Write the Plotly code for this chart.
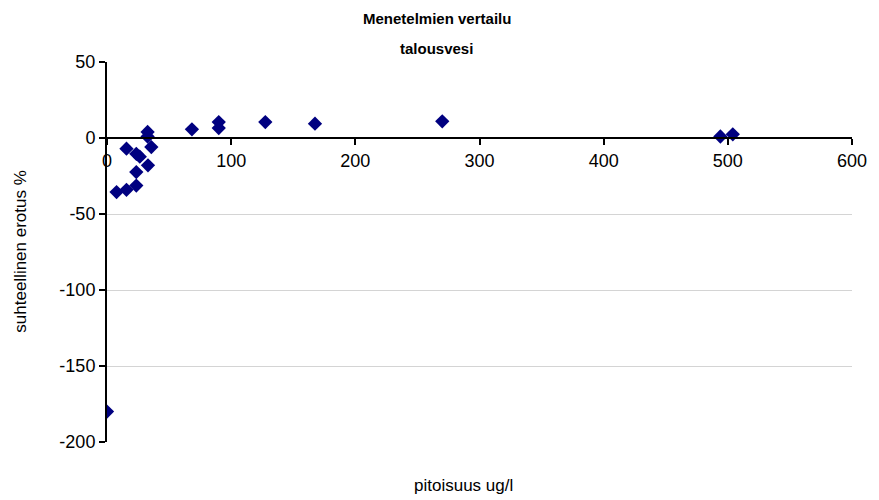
import plotly.graph_objects as go

pitoisuus = [0, 7.7, 15.7, 23.6, 23.6, 33, 23.6, 26.4, 15.7, 35.7, 32.7, 32.7,
             68.4, 90, 90, 127.5, 167.5, 270, 494, 504]
erotus = [-180, -35.6, -34.1, -31.3, -22.4, -18, -10.4, -12.3, -7, -6, 4, 1,
          5.7, 10.5, 6.5, 10.5, 9.4, 11, 1, 2.4]

x_ticks = [0, 100, 200, 300, 400, 500, 600]
y_ticks = [50, 0, -50, -100, -150, -200]
y_tick_labels = ["50", "0", "-50", "-100", "-150", "-200"]

title_lines = ["Menetelmien vertailu", "talousvesi"]
x_title = "pitoisuus ug/l"
y_title = "suhteellinen erotus %"

font_family = "Liberation Sans, Arial, sans-serif"

fig = go.Figure()
fig.add_trace(go.Scatter(
    x=pitoisuus, y=erotus, mode="markers",
    marker=dict(symbol="diamond", size=11, color="#000080", line=dict(width=0)),
    showlegend=False,
))

fig.update_layout(
    width=879, height=500,
    margin=dict(l=107, r=21, t=62, b=58),
    paper_bgcolor="white", plot_bgcolor="white",
    font=dict(family=font_family, size=16, color="black"),
    xaxis=dict(
        range=[0, 600], tickvals=x_ticks, ticktext=[str(v) for v in x_ticks],
        anchor="free", position=0.8,
        showline=True, linecolor="black", linewidth=2,
        ticks="outside", ticklen=6, tickwidth=2, tickcolor="black",
        showgrid=False, zeroline=False,
        tickfont=dict(size=18),
    ),
    yaxis=dict(
        range=[-200, 50], tickvals=y_ticks, ticktext=y_tick_labels,
        showline=True, linecolor="black", linewidth=2,
        ticks="outside", ticklen=6, tickwidth=2, tickcolor="black",
        showgrid=True, gridcolor="#d4d4d4", gridwidth=1,
        zeroline=False,
        tickfont=dict(size=18),
    ),
    annotations=[
        dict(text="<b>" + title_lines[0] + "</b>", x=439.5, y=18,
             showarrow=False, font=dict(size=15)),
        dict(text="<b>" + title_lines[1] + "</b>", x=439.5, y=48,
             showarrow=False, font=dict(size=15)),
        dict(text=x_title, x=466, y=485,
             showarrow=False, font=dict(size=17)),
        dict(text=y_title, x=19, y=251, textangle=-90,
             showarrow=False, font=dict(size=17)),
    ],
)

# convert pixel positions of header/footer text to paper coordinates
plot_h = 500 - 62 - 58
plot_w = 879 - 107 - 21
for ann in fig.layout.annotations:
    px, py = ann.x, ann.y
    ann.xref = "paper"
    ann.yref = "paper"
    ann.x = (px - 107) / plot_w
    ann.y = (500 - 58 - py) / plot_h
    ann.xanchor = "center"
    ann.yanchor = "middle"

fig.write_html("out.html")
